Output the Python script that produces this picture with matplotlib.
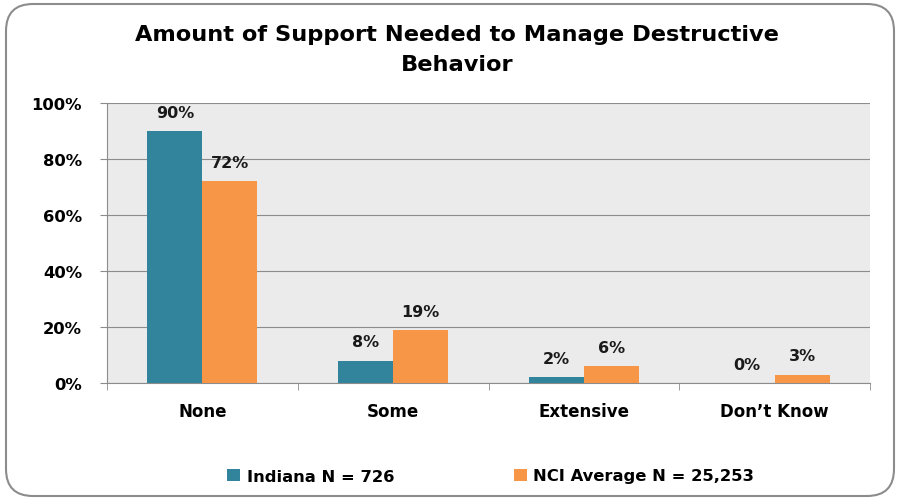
import matplotlib
matplotlib.use("Agg")
import matplotlib.pyplot as plt
from matplotlib.patches import FancyBboxPatch
import numpy as np

categories = ["None", "Some", "Extensive", "Don\u2019t Know"]
indiana = [90, 8, 2, 0]
nci = [72, 19, 6, 3]
series_names = ["Indiana N = 726", "NCI Average N = 25,253"]
yticks = [0, 20, 40, 60, 80, 100]
title = "Amount of Support Needed to Manage Destructive\nBehavior"

plt.rcParams['font.family'] = ['DejaVu Sans']
W, H = 900, 502
fig = plt.figure(figsize=(W/100, H/100), dpi=100)

border = FancyBboxPatch((6/W, 5/H), 888/W, 492/H, boxstyle="round,pad=0,rounding_size=0.03",
                        transform=fig.transFigure, fill=False, edgecolor="#8c8c8c", linewidth=1.5,
                        mutation_aspect=W/H)
fig.patches.append(border)

ax = fig.add_axes([107/W, 1-384/H, (870-107)/W, (384-104)/H])
ax.set_facecolor("#EBEBEB")
teal = "#31849B"
orange = "#F79646"
x = np.arange(len(categories))
bw = 0.288
b1 = ax.bar(x - bw/2, indiana, bw, color=teal, label=series_names[0], zorder=3)
b2 = ax.bar(x + bw/2, nci, bw, color=orange, label=series_names[1], zorder=3)
for bars, vals in ((b1, indiana), (b2, nci)):
    for r, v in zip(bars, vals):
        ax.text(r.get_x() + r.get_width()/2, v + 4, f"{v}%", ha="center", va="bottom",
                fontsize=11.5, fontweight="bold", color="#1a1a1a")

ax.set_xlim(-0.5, len(categories) - 0.5)
ax.set_ylim(0, 100)
ax.set_yticks(yticks)
ax.set_yticklabels([f"{t}%" for t in yticks], fontsize=11.8, fontweight="bold")
ax.set_xticks(x)
ax.set_xticklabels(categories, fontsize=12, fontweight="bold")
ax.tick_params(axis="x", length=0, pad=14)
ax.tick_params(axis="y", length=5, color="#8c8c8c", pad=13)
ax.set_xticks(np.arange(len(categories) + 1) - 0.5, minor=True)
ax.tick_params(axis="x", which="minor", length=5, color="#8c8c8c")
ax.grid(axis="y", color="#8c8c8c", linewidth=0.8, zorder=0)
for s in ["top", "right"]:
    ax.spines[s].set_visible(False)
for s in ["left", "bottom"]:
    ax.spines[s].set_color("#8c8c8c")

fig.text(457/W, 1-50/H, title, ha="center", va="center", fontsize=16.2, fontweight="bold",
         linespacing=1.62)

fig.legend(handles=[b1, b2], loc="center left", bbox_to_anchor=(227/W, 1-477/H), ncol=2,
           frameon=False, prop={"weight": "bold", "size": 11.8}, borderpad=0, borderaxespad=0,
           handlelength=0.8, handleheight=0.8, columnspacing=7.3, handletextpad=0.4)

fig.savefig("out.png", dpi=100)
